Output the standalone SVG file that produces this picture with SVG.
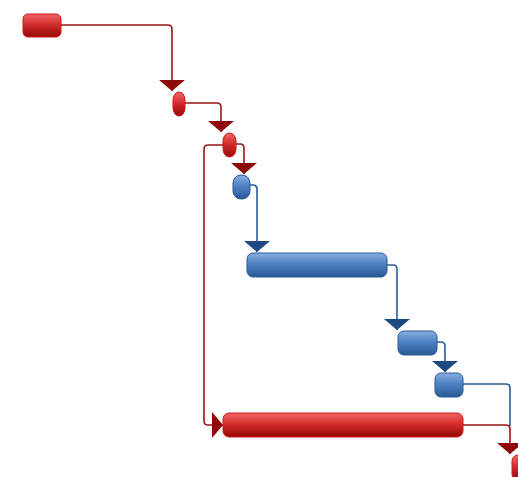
<svg xmlns="http://www.w3.org/2000/svg" width="518" height="477" viewBox="0 0 518 477">
  <defs>
    <linearGradient id="gRed" x1="0" y1="0" x2="0" y2="1">
      <stop offset="0" stop-color="#f06666"/>
      <stop offset="0.45" stop-color="#d42e2e"/>
      <stop offset="1" stop-color="#960606"/>
    </linearGradient>
    <linearGradient id="gBlue" x1="0" y1="0" x2="0" y2="1">
      <stop offset="0" stop-color="#86afe0"/>
      <stop offset="0.45" stop-color="#4f82c2"/>
      <stop offset="1" stop-color="#2a5896"/>
    </linearGradient>
    <marker id="aRed" markerUnits="userSpaceOnUse" markerWidth="12" markerHeight="26" viewBox="0 0 12 26" refX="11" refY="13" orient="auto">
      <path d="M0,0 L11,13 L0,26 z" fill="#8e0a0a"/>
    </marker>
    <marker id="aBlue" markerUnits="userSpaceOnUse" markerWidth="12" markerHeight="26" viewBox="0 0 12 26" refX="11" refY="13" orient="auto">
      <path d="M0,0 L11,13 L0,26 z" fill="#1d4880"/>
    </marker>
  </defs>
  <style>
    .red { fill: url(#gRed); stroke: #d01818; stroke-width: 1; }
    .blue { fill: url(#gBlue); stroke: #2a5a98; stroke-width: 1; }
    .cr { fill: none; stroke: #9a1515; stroke-width: 1.6; marker-end: url(#aRed); }
    .cb { fill: none; stroke: #2a5a98; stroke-width: 1.6; marker-end: url(#aBlue); }
  </style>
  <rect width="518" height="477" fill="#ffffff"/>

  <g id="connectors">
    <path class="cr" d="M61,25 H168 Q172,25 172,29 V91"/>
    <path class="cr" d="M185,103 H217 Q221,103 221,107 V132"/>
    <path class="cr" d="M236,144 H240 Q244,144 244,148 V174"/>
    <path class="cr" d="M223,145 H208 Q204,145 204,149 V421 Q204,425 208,425 H223"/>
    <path class="cb" d="M250,185 H253 Q257,185 257,189 V252"/>
    <path class="cb" d="M387,265 H393 Q397,265 397,269 V330"/>
    <path class="cb" d="M437,342 H441 Q445,342 445,346 V372"/>
    <path fill="none" stroke="#2a5a98" stroke-width="1.6" d="M463,384 H506 Q510,384 510,388 V426"/>
    <path class="cr" d="M463,425 H506 Q510,425 510,429 V454"/>
  </g>

  <g id="task1"><rect class="red" x="23" y="14" width="38" height="23" rx="5"/></g>
  <g id="task2"><rect class="red" x="173" y="92" width="12" height="24" rx="6" ry="8"/></g>
  <g id="task3"><rect class="red" x="223" y="133" width="13" height="24" rx="6.5" ry="8"/></g>
  <g id="task4"><rect class="blue" x="233" y="175" width="17" height="24" rx="8" ry="8"/></g>
  <g id="task5"><rect class="blue" x="247" y="253" width="140" height="24" rx="6"/></g>
  <g id="task6"><rect class="blue" x="398" y="331" width="39" height="24" rx="6"/></g>
  <g id="task7"><rect class="blue" x="435" y="373" width="28" height="24" rx="6"/></g>
  <g id="task8"><rect class="red" x="223" y="413" width="240" height="24" rx="6"/></g>
  <g id="task9"><rect class="red" x="512" y="455" width="20" height="25" rx="6"/></g>
</svg>
